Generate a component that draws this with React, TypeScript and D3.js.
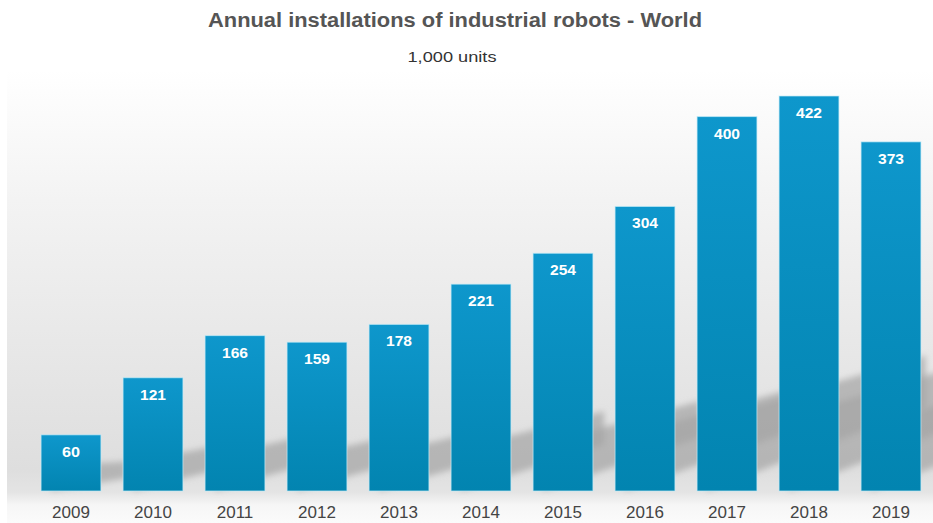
import React from "react";
import * as d3 from "d3";

const years = ["2009","2010","2011","2012","2013","2014","2015","2016","2017","2018","2019"];
const installs = [60,121,166,159,178,221,254,304,400,422,373];
const titleText = "Annual installations of industrial robots - World";
const subtitleText = "1,000 units";

const W = 933, H = 523;

export default function App() {
  const base = 491;
  const x = d3.scaleBand<string>().domain(years).range([30, 932]).paddingInner(0.27).paddingOuter(0.135);
  const y = d3.scaleLinear().domain([0, 422]).range([base, 96]);
  const bw = x.bandwidth();
  return (
    <svg width={W} height={H} style={{ position: "absolute", left: 0, top: 0, background: "#fff" }}>
      <defs>
        <linearGradient id="bg" x1="0" y1="0" x2="0" y2={H} gradientUnits="userSpaceOnUse">
          <stop offset={70 / H} stopColor="#ffffff" />
          <stop offset={200 / H} stopColor="#f3f3f3" />
          <stop offset={470 / H} stopColor="#dedede" />
          <stop offset={492 / H} stopColor="#e4e4e4" />
          <stop offset={505 / H} stopColor="#f6f6f6" />
          <stop offset={1} stopColor="#fbfbfb" />
        </linearGradient>
        <linearGradient id="bar" x1="0" y1="0" x2="0" y2="1">
          <stop offset="0" stopColor="#0e97cc" />
          <stop offset="1" stopColor="#0284b0" />
        </linearGradient>
        <filter id="blur" x="-20%" y="-20%" width="140%" height="140%">
          <feGaussianBlur stdDeviation="3" />
        </filter>
      </defs>
      <rect x={7} y={0} width={W - 7} height={H} fill="url(#bg)" />
      <g filter="url(#blur)">
        {years.map((yr, i) => {
          const x0 = x(yr)!;
          const x1 = x0 + bw;
          const h = base - y(installs[i]);
          const L = 0.45 * h;
          const T = 18 + 0.18 * h;
          const pts = [
            [x0 + 10, base],
            [x1 + L, base - 0.5 * L],
            [x1 + L, base - 0.5 * L - T * 0.6],
            [x1, base - T],
            [x0 + 10, base - T],
          ];
          return <polygon key={yr} points={pts.map(p => p.join(",")).join(" ")} fill="#a4a4a4" opacity={0.7} />;
        })}
      </g>
      {years.map((yr, i) => (
        <rect key={yr} x={x(yr)} y={y(installs[i])} width={bw} height={base - y(installs[i])}
          fill="url(#bar)" stroke="#c4ecf8" strokeOpacity={0.7} strokeWidth={1} />
      ))}
      {years.map((yr, i) => (
        <text key={yr} x={x(yr)! + bw / 2} y={y(installs[i]) + 22} textAnchor="middle"
          fontFamily="Liberation Sans, Arial, sans-serif" fontWeight="bold" fontSize={15} fill="#fff"
          textLength={installs[i] >= 100 ? 26 : 18} lengthAdjust="spacingAndGlyphs">
          {installs[i]}
        </text>
      ))}
      {years.map((yr) => (
        <text key={yr} x={x(yr)! + bw / 2} y={518} textAnchor="middle"
          fontFamily="Liberation Sans, Arial, sans-serif" fontSize={17} fill="#444">
          {yr}
        </text>
      ))}
      <text x={455} y={27} textAnchor="middle" fontFamily="Liberation Sans, Arial, sans-serif"
        fontWeight="bold" fontSize={20} fill="#555" textLength={494} lengthAdjust="spacingAndGlyphs">
        {titleText}
      </text>
      <text x={452} y={62} textAnchor="middle" fontFamily="Liberation Sans, Arial, sans-serif"
        fontSize={15} fill="#333" textLength={89} lengthAdjust="spacingAndGlyphs">
        {subtitleText}
      </text>
    </svg>
  );
}
